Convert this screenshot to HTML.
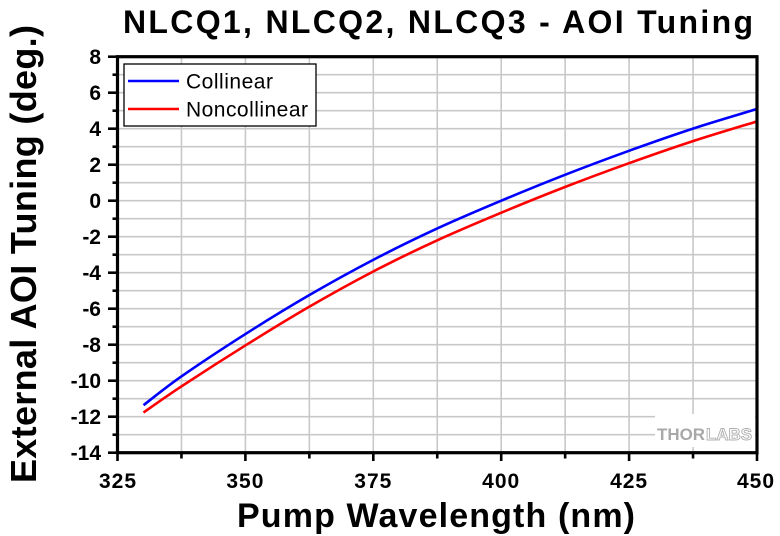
<!DOCTYPE html>
<html>
<head>
<meta charset="utf-8">
<style>
  html, body { margin: 0; padding: 0; background: #ffffff; }
  svg { display: block; }
  text { font-family: "Liberation Sans", Arial, sans-serif; }
</style>
</head>
<body>
<svg width="780" height="536" viewBox="0 0 780 536" xmlns="http://www.w3.org/2000/svg">
  <rect x="0" y="0" width="780" height="536" fill="#ffffff"/>

  <!-- Title -->
  <text x="123" y="33" font-size="32" font-weight="bold" fill="#000" textLength="630" lengthAdjust="spacing">NLCQ1, NLCQ2, NLCQ3 - AOI Tuning</text>

  <!-- Grid lines -->
  <g stroke="#c8c8c8" stroke-width="1.6" fill="none">
    <line x1="181.45" y1="56.7" x2="181.45" y2="452.7"/>
    <line x1="245.4" y1="56.7" x2="245.4" y2="452.7"/>
    <line x1="309.35" y1="56.7" x2="309.35" y2="452.7"/>
    <line x1="373.3" y1="56.7" x2="373.3" y2="452.7"/>
    <line x1="437.25" y1="56.7" x2="437.25" y2="452.7"/>
    <line x1="501.2" y1="56.7" x2="501.2" y2="452.7"/>
    <line x1="565.15" y1="56.7" x2="565.15" y2="452.7"/>
    <line x1="629.1" y1="56.7" x2="629.1" y2="452.7"/>
    <line x1="693.05" y1="56.7" x2="693.05" y2="452.7"/>

    <line x1="117.5" y1="74.7" x2="757" y2="74.7"/>
    <line x1="117.5" y1="92.7" x2="757" y2="92.7"/>
    <line x1="117.5" y1="110.7" x2="757" y2="110.7"/>
    <line x1="117.5" y1="128.7" x2="757" y2="128.7"/>
    <line x1="117.5" y1="146.7" x2="757" y2="146.7"/>
    <line x1="117.5" y1="164.7" x2="757" y2="164.7"/>
    <line x1="117.5" y1="182.7" x2="757" y2="182.7"/>
    <line x1="117.5" y1="200.7" x2="757" y2="200.7"/>
    <line x1="117.5" y1="218.7" x2="757" y2="218.7"/>
    <line x1="117.5" y1="236.7" x2="757" y2="236.7"/>
    <line x1="117.5" y1="254.7" x2="757" y2="254.7"/>
    <line x1="117.5" y1="272.7" x2="757" y2="272.7"/>
    <line x1="117.5" y1="290.7" x2="757" y2="290.7"/>
    <line x1="117.5" y1="308.7" x2="757" y2="308.7"/>
    <line x1="117.5" y1="326.7" x2="757" y2="326.7"/>
    <line x1="117.5" y1="344.7" x2="757" y2="344.7"/>
    <line x1="117.5" y1="362.7" x2="757" y2="362.7"/>
    <line x1="117.5" y1="380.7" x2="757" y2="380.7"/>
    <line x1="117.5" y1="398.7" x2="757" y2="398.7"/>
    <line x1="117.5" y1="416.7" x2="757" y2="416.7"/>
    <line x1="117.5" y1="434.7" x2="757" y2="434.7"/>
  </g>

  <!-- Watermark background -->
  <rect x="655" y="414" width="100" height="33" fill="#ffffff"/>
  <text x="657" y="440" font-size="16.5" font-weight="bold" fill="#a8a8a8" textLength="48" lengthAdjust="spacingAndGlyphs">THOR</text>
  <text x="706" y="440" font-size="16.5" font-weight="bold" fill="#ffffff" stroke="#b0b0b0" stroke-width="0.9" textLength="46" lengthAdjust="spacingAndGlyphs">LABS</text>

  <!-- Curves -->
  <path fill="none" stroke="#ff0000" stroke-width="2.6" stroke-linejoin="round"
    d="M143.5,412.5 C149.75,408.2 164.08,397.83 181,386.7
       C197.92,375.57 223.67,359.0 245,345.7
       C266.33,332.4 287.67,319.25 309,306.9
       C330.33,294.55 351.67,282.68 373,271.6
       C394.33,260.52 415.67,250.2 437,240.4
       C458.33,230.6 479.67,221.7 501,212.8
       C522.33,203.9 543.67,195.27 565,187.0
       C586.33,178.73 607.67,170.85 629,163.2
       C650.33,155.55 671.83,148.02 693,141.1
       C714.17,134.18 745.5,124.93 756,121.7"/>
  <path fill="none" stroke="#0000ff" stroke-width="2.6" stroke-linejoin="round"
    d="M143.5,405.2 C149.75,400.45 164.08,388.52 181,376.7
       C197.92,364.88 223.67,347.87 245,334.3
       C266.33,320.73 287.67,307.68 309,295.3
       C330.33,282.92 351.67,271.12 373,260.0
       C394.33,248.88 415.67,238.47 437,228.6
       C458.33,218.73 479.67,209.77 501,200.8
       C522.33,191.83 543.67,183.13 565,174.8
       C586.33,166.47 607.67,158.5 629,150.8
       C650.33,143.1 671.83,135.52 693,128.6
       C714.17,121.68 745.5,112.52 756,109.3"/>

  <!-- Axes frame -->
  <rect x="117.5" y="56.7" width="639.5" height="396" fill="none" stroke="#000" stroke-width="3.2"/>

  <!-- Left ticks -->
  <g stroke="#000" stroke-width="2.6">
    <line x1="108" y1="56.7" x2="117.5" y2="56.7"/>
    <line x1="112.5" y1="74.7" x2="117.5" y2="74.7"/>
    <line x1="108" y1="92.7" x2="117.5" y2="92.7"/>
    <line x1="112.5" y1="110.7" x2="117.5" y2="110.7"/>
    <line x1="108" y1="128.7" x2="117.5" y2="128.7"/>
    <line x1="112.5" y1="146.7" x2="117.5" y2="146.7"/>
    <line x1="108" y1="164.7" x2="117.5" y2="164.7"/>
    <line x1="112.5" y1="182.7" x2="117.5" y2="182.7"/>
    <line x1="108" y1="200.7" x2="117.5" y2="200.7"/>
    <line x1="112.5" y1="218.7" x2="117.5" y2="218.7"/>
    <line x1="108" y1="236.7" x2="117.5" y2="236.7"/>
    <line x1="112.5" y1="254.7" x2="117.5" y2="254.7"/>
    <line x1="108" y1="272.7" x2="117.5" y2="272.7"/>
    <line x1="112.5" y1="290.7" x2="117.5" y2="290.7"/>
    <line x1="108" y1="308.7" x2="117.5" y2="308.7"/>
    <line x1="112.5" y1="326.7" x2="117.5" y2="326.7"/>
    <line x1="108" y1="344.7" x2="117.5" y2="344.7"/>
    <line x1="112.5" y1="362.7" x2="117.5" y2="362.7"/>
    <line x1="108" y1="380.7" x2="117.5" y2="380.7"/>
    <line x1="112.5" y1="398.7" x2="117.5" y2="398.7"/>
    <line x1="108" y1="416.7" x2="117.5" y2="416.7"/>
    <line x1="112.5" y1="434.7" x2="117.5" y2="434.7"/>
    <line x1="108" y1="452.7" x2="117.5" y2="452.7"/>
  </g>

  <!-- Bottom ticks -->
  <g stroke="#000" stroke-width="2.6">
    <line x1="117.5" y1="452.7" x2="117.5" y2="461"/>
    <line x1="181.45" y1="452.7" x2="181.45" y2="458.5"/>
    <line x1="245.4" y1="452.7" x2="245.4" y2="461"/>
    <line x1="309.35" y1="452.7" x2="309.35" y2="458.5"/>
    <line x1="373.3" y1="452.7" x2="373.3" y2="461"/>
    <line x1="437.25" y1="452.7" x2="437.25" y2="458.5"/>
    <line x1="501.2" y1="452.7" x2="501.2" y2="461"/>
    <line x1="565.15" y1="452.7" x2="565.15" y2="458.5"/>
    <line x1="629.1" y1="452.7" x2="629.1" y2="461"/>
    <line x1="693.05" y1="452.7" x2="693.05" y2="458.5"/>
    <line x1="757" y1="452.7" x2="757" y2="461"/>
  </g>

  <!-- Y tick labels -->
  <g font-size="21" font-weight="bold" fill="#000" text-anchor="end">
    <text x="101" y="64">8</text>
    <text x="101" y="100">6</text>
    <text x="101" y="136">4</text>
    <text x="101" y="172">2</text>
    <text x="101" y="208">0</text>
    <text x="101" y="244">-2</text>
    <text x="101" y="280">-4</text>
    <text x="101" y="316">-6</text>
    <text x="101" y="352">-8</text>
    <text x="101" y="388">-10</text>
    <text x="101" y="424">-12</text>
    <text x="101" y="460">-14</text>
  </g>

  <!-- X tick labels -->
  <g font-size="21" font-weight="bold" fill="#000" text-anchor="middle" letter-spacing="1">
    <text x="118" y="488">325</text>
    <text x="245.4" y="488">350</text>
    <text x="373.3" y="488">375</text>
    <text x="501.2" y="488">400</text>
    <text x="629.1" y="488">425</text>
    <text x="756" y="488">450</text>
  </g>

  <!-- Axis labels -->
  <text x="237" y="527" font-size="34" font-weight="bold" fill="#000" textLength="398" lengthAdjust="spacing">Pump Wavelength (nm)</text>
  <text transform="translate(36,483) rotate(-90)" x="0" y="0" font-size="36" font-weight="bold" fill="#000" textLength="458" lengthAdjust="spacing">External AOI Tuning (deg.)</text>

  <!-- Legend -->
  <rect x="124" y="64" width="192" height="62" fill="#ffffff" stroke="#000" stroke-width="1.3"/>
  <line x1="128" y1="81" x2="179" y2="81" stroke="#0000ff" stroke-width="2.6"/>
  <line x1="128" y1="109" x2="179" y2="109" stroke="#ff0000" stroke-width="2.6"/>
  <text x="186" y="88.5" font-size="21" fill="#000" textLength="87" lengthAdjust="spacing">Collinear</text>
  <text x="186" y="116.5" font-size="21" fill="#000" textLength="122" lengthAdjust="spacing">Noncollinear</text>
</svg>
</body>
</html>
